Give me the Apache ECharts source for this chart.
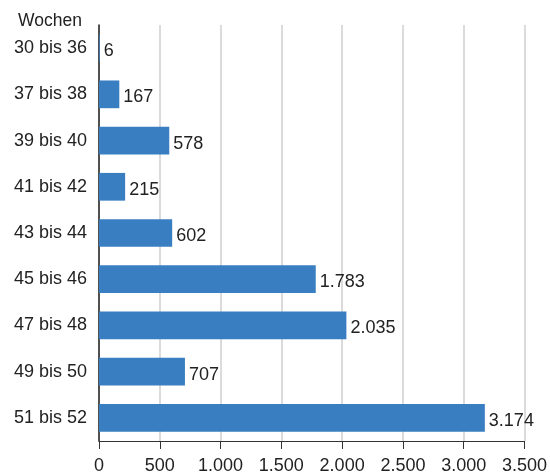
<!DOCTYPE html>
<html><head><meta charset="utf-8">
<script src="https://cdn.jsdelivr.net/npm/echarts@6/dist/echarts.min.js"></script>
<style>html,body{margin:0;padding:0;background:#fff}#c{width:550px;height:475px}</style>
</head><body><div id="c"></div>
<script>
const categories = ["30 bis 36","37 bis 38","39 bis 40","41 bis 42","43 bis 44","45 bis 46","47 bis 48","49 bis 50","51 bis 52"];
const values = [6,167,578,215,602,1783,2035,707,3174];
const xTicks = {min:0, max:3500, interval:500};
const fmt = v => String(v).replace(/\B(?=(\d{3})+(?!\d))/g, ".");
const chart = echarts.init(document.getElementById('c'));
chart.setOption({
  animation:false,
  textStyle:{fontFamily:'Liberation Sans, Arial, sans-serif'},
  title:{text:'Wochen',left:13,top:7,textStyle:{color:'#222',fontSize:17.5,fontWeight:'normal',fontFamily:'Liberation Sans, Arial, sans-serif'}},
  grid:{left:99,right:25,top:25,bottom:34,containLabel:false},
  xAxis:{type:'value',min:xTicks.min,max:xTicks.max,interval:xTicks.interval,
    axisLine:{show:true,lineStyle:{color:'#333',width:1}},
    axisTick:{show:true,length:8,lineStyle:{color:'#333'}},
    axisLabel:{color:'#222',fontSize:18,margin:16,formatter:fmt},
    splitLine:{show:true,lineStyle:{color:'#cfcfcf',width:1.5}}},
  yAxis:{type:'category',data:categories,inverse:true,
    axisLine:{show:true,lineStyle:{color:'#222',width:1.5}},
    axisTick:{show:false},
    axisLabel:{color:'#222',fontSize:18,margin:12}},
  series:[{type:'bar',data:values,barWidth:'60%',
    itemStyle:{color:'#3a7ec2'},
    label:{show:true,position:'right',distance:4,offset:[0,3],color:'#222',fontSize:18,formatter:p=>fmt(p.value)}}]
});
</script></body></html>
